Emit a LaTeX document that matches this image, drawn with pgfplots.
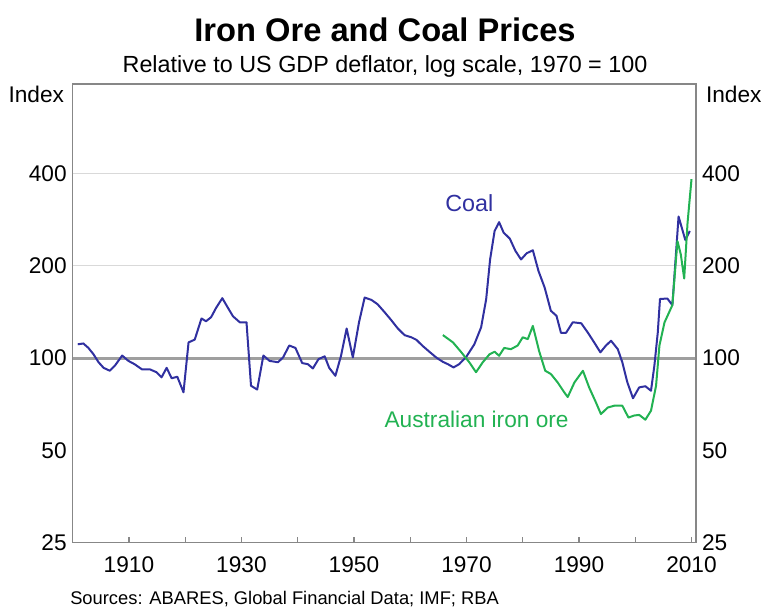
\documentclass[border=0pt]{standalone}
\usepackage{fontspec}
\setmainfont{Liberation Sans}
\usepackage{pgfplots}
\pgfplotsset{compat=1.18}

\definecolor{coalblue}{RGB}{48,48,160}
\definecolor{oregreen}{RGB}{34,178,82}
\definecolor{framegray}{RGB}{135,135,135}

\begin{document}
\begin{tikzpicture}
\path[use as bounding box] (0,0) rectangle (570.75pt,-456pt);

\node[font=\bfseries\fontsize{24.5}{28}\selectfont] at (288.75pt,-22.5pt) {Iron Ore and Coal Prices};
\node[font=\fontsize{17.5}{20}\selectfont] at (288.75pt,-49.5pt) {Relative to US GDP deflator, log scale, 1970 = 100};
\node[font=\fontsize{17}{20}\selectfont, anchor=east] at (51.5pt,-71pt) {Index};
\node[font=\fontsize{17}{20}\selectfont, anchor=west] at (526pt,-71pt) {Index};
\node[font=\fontsize{13.75}{16}\selectfont, anchor=west, inner sep=0pt] at (52.5pt,-449pt) {Sources: ABARES, Global Financial Data; IMF; RBA};

\begin{axis}[
    ymode=log,
    scale only axis, width=467.5pt, height=344pt,
    at={(54.5pt,-407pt)}, anchor=south west,
    xmin=1900, xmax=2010.8,
    ymin=25, ymax=785,
    ytick={25,50,100,200,400},
    yticklabels={25,50,100,200,400},
    ytick style={draw=none},
    axis line style={framegray, line width=1.1pt},
    tick label style={font=\fontsize{17}{20}\selectfont},
    xtick={1910,1920,...,2010},
    xticklabels={1910,,1930,,1950,,1970,,1990,,2010},
    xtick pos=bottom, tick align=inside,
    major tick length=4pt,
    xtick style={framegray, line width=0.9pt},
    xticklabel style={yshift=-7pt},
    yticklabel pos=left,
    yticklabel style={xshift=-1pt},
]
% reference lines
\draw[gray!30, line width=0.8pt] (axis cs:1900,200) -- (axis cs:2010.8,200);
\draw[gray!30, line width=0.8pt] (axis cs:1900,400) -- (axis cs:2010.8,400);
\draw[gray!75, line width=2pt] (axis cs:1900,100) -- (axis cs:2010.8,100);

% coal
\addplot[coalblue, line width=1.5pt, line join=round] coordinates {
(1900.9,111)(1901.9,111.7)(1902.8,108)(1903.7,103)(1904.6,97)(1905.5,93)
(1906.6,91)(1907.5,94.5)(1908.8,102)(1909.9,98)(1911,95.6)(1912.3,92)
(1913.7,92)(1914.9,90)(1915.8,86.6)(1916.7,93)(1917.6,86)(1918.6,87)
(1919.7,77.4)(1920.6,112.6)(1921.7,115)(1922.9,134.8)(1923.7,132)(1924.6,136)
(1925.5,146)(1926.6,157)(1927.6,146)(1928.5,137)(1929.7,131)(1930.9,131)
(1931.7,81.3)(1932.8,79)(1933.9,102)(1935,98)(1936.5,97)(1937.4,100.6)
(1938.5,110)(1939.6,108)(1940.8,96.4)(1941.8,95.6)(1942.7,92.6)(1943.7,99.3)
(1944.8,101.4)(1945.6,93)(1946.7,87.6)(1947.7,101.8)(1948.7,125)(1949.8,100.6)
(1950.9,131)(1951.9,157.7)(1953.1,155)(1954.2,150)(1955.4,141.6)(1956.6,133.3)
(1957.8,125)(1959,118.9)(1960.2,117)(1961.1,114.8)(1962.2,109.7)(1963.4,105)
(1964.6,100.6)(1965.8,97.3)(1966.7,95.6)(1967.7,93.3)(1968.7,95.6)(1969.9,100.6)
(1971.4,111)(1972.6,126)(1973.5,155.7)(1974.2,210)(1975,260)(1975.8,278)
(1976.6,257)(1977.7,245.6)(1978.7,224)(1979.7,210)(1980.7,220)(1981.8,225)
(1982.8,192.6)(1983.9,170)(1985,142.8)(1986,137.5)(1986.8,121)(1987.7,121)
(1988.9,131)(1990.4,130)(1991.6,121)(1992.7,112.6)(1993.8,104.5)(1994.8,110)
(1995.7,114)(1996.9,107)(1997.7,97)(1998.6,83.4)(1999.6,74)(2000.7,80.3)
(2001.8,81)(2002.8,78.3)(2003.4,94.5)(2004,121)(2004.4,156)(2005.7,156.6)
(2006.6,149)(2007.7,290)(2008.9,243)(2009.7,260)
};

% Australian iron ore
\addplot[oregreen, line width=1.5pt, line join=round] coordinates {
(1965.8,119)(1967.6,112.6)(1969,105)(1970.5,97)(1971.7,90)(1972.9,97)
(1974.1,103)(1975,105)(1975.8,101.8)(1976.7,108)(1977.9,107)(1979.1,110)
(1980,117)(1980.9,115.4)(1981.8,127.5)(1982.9,105.7)(1984,91)(1985,88.8)
(1986.2,83.4)(1987.4,77.3)(1988,74.7)(1989.2,83.4)(1990.7,91)(1991.8,80.3)
(1993,71.8)(1993.9,65.7)(1995.1,69)(1996.3,70)(1997.7,70)(1998.8,64)
(1999.8,65)(2000.7,65.3)(2001.8,63)(2002.8,67.4)(2003.7,81.3)(2004.3,110)
(2005.2,130.8)(2006.6,149)(2007.5,241)(2008.1,218)(2008.7,182)(2009.3,277)
(2010,384)
};

\node[text=coalblue, font=\fontsize{17.5}{20}\selectfont] at (axis cs:1970.5,320) {Coal};
\node[text=oregreen, font=\fontsize{17}{20}\selectfont] at (axis cs:1971.8,63.3) {Australian iron ore};
\end{axis}

% right-hand labels
\begin{axis}[
    ymode=log,
    scale only axis, width=467.5pt, height=344pt,
    at={(54.5pt,-407pt)}, anchor=south west,
    xmin=1900, xmax=2010.8,
    ymin=25, ymax=785,
    ytick={25,50,100,200,400},
    yticklabels={25,50,100,200,400},
    ytick style={draw=none},
    axis line style={framegray, line width=1.1pt},
    tick label style={font=\fontsize{17}{20}\selectfont},
    hide x axis,
    axis y line*=right,
    yticklabel style={xshift=1pt},
]
\addplot[draw=none] coordinates {(1970,100)};
\end{axis}
\end{tikzpicture}
\end{document}
